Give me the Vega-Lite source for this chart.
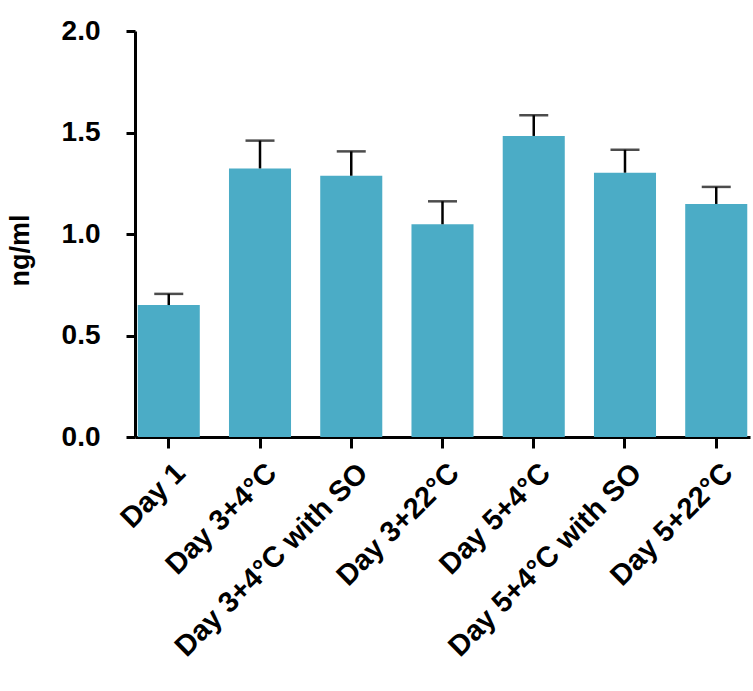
{
  "$schema": "https://vega.github.io/schema/vega-lite/v6.json",
  "width": 615,
  "height": 406,
  "autosize": "none",
  "padding": {"left": 135, "top": 31, "right": 3, "bottom": 254},
  "background": "white",
  "config": {"view": {"stroke": null}, "font": "Liberation Sans"},
  "data": {
    "values": [
      {"group": "Day 1", "mean": 0.65, "upper": 0.705},
      {"group": "Day 3+4°C", "mean": 1.323, "upper": 1.46},
      {"group": "Day 3+4°C with SO", "mean": 1.287, "upper": 1.407},
      {"group": "Day 3+22°C", "mean": 1.048, "upper": 1.161},
      {"group": "Day 5+4°C", "mean": 1.483, "upper": 1.585},
      {"group": "Day 5+4°C with SO", "mean": 1.302, "upper": 1.415},
      {"group": "Day 5+22°C", "mean": 1.148, "upper": 1.232}
    ]
  },
  "encoding": {
    "x": {
      "field": "group",
      "type": "nominal",
      "sort": null,
      "scale": {"paddingInner": 0.32, "paddingOuter": 0.03},
      "axis": {
        "title": null,
        "domainColor": "black",
        "domainWidth": 3,
        "tickColor": "black",
        "tickWidth": 3,
        "tickSize": 11,
        "labelAngle": -45,
        "labelAlign": "right",
        "labelBaseline": "top",
        "labelFont": "Liberation Sans",
        "labelFontWeight": "bold",
        "labelFontSize": 29,
        "labelColor": "black",
        "labelPadding": 10,
        "labelOffset": 2,
        "labelLimit": 0
      }
    }
  },
  "layer": [
    {
      "mark": {"type": "bar", "color": "#4BACC6"},
      "encoding": {
        "y": {
          "field": "mean",
          "type": "quantitative",
          "scale": {"domain": [0, 2]},
          "axis": {
            "title": "ng/ml",
            "values": [0, 0.5, 1, 1.5, 2],
            "format": ".1f",
            "grid": false,
            "domainColor": "black",
            "domainWidth": 3,
            "tickColor": "black",
            "tickWidth": 3,
            "tickSize": 9,
            "labelFont": "Liberation Sans",
            "labelFontWeight": "bold",
            "labelFontSize": 28,
            "labelColor": "black",
            "labelPadding": 26,
            "titleFont": "Liberation Sans",
            "titleFontWeight": "bold",
            "titleFontSize": 27,
            "titleColor": "black",
            "titlePadding": 27,
            "titleY": 219
          }
        }
      }
    },
    {
      "mark": {"type": "rule", "color": "black", "strokeWidth": 2.5},
      "encoding": {
        "y": {"field": "mean", "type": "quantitative", "title": "ng/ml"},
        "y2": {"field": "upper"}
      }
    },
    {
      "mark": {"type": "tick", "color": "black", "thickness": 2.5, "size": 29},
      "encoding": {
        "y": {"field": "upper", "type": "quantitative", "title": "ng/ml"}
      }
    }
  ]
}
